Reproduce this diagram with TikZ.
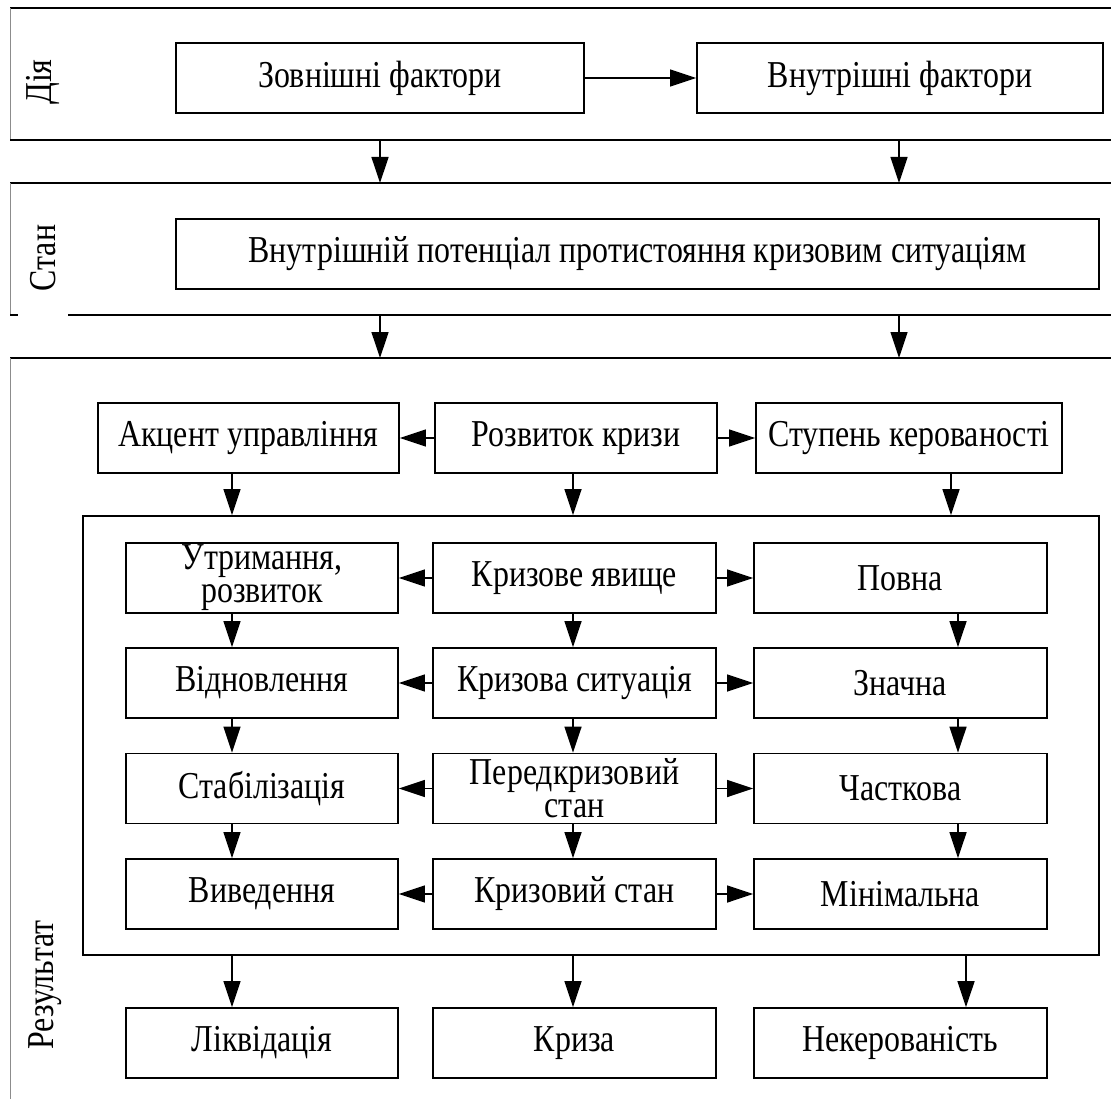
\documentclass[tikz,border=0pt]{standalone}
\usepackage{fontspec}
\setmainfont{Liberation Serif}[FakeStretch=0.84]
\usetikzlibrary{arrows.meta}
\begin{document}
\begin{tikzpicture}[x=1pt,y=-1pt,
  txt/.style={font=\fontsize{38}{33}\selectfont},
  box/.style={txt, draw, line width=1.6pt, minimum height=70pt, inner sep=0pt, align=center},
  arr/.style={-{Triangle[length=26pt,width=17pt]}, line width=1.3pt},
  thick band/.style={line width=2.8pt},
  thin band/.style={line width=1.4pt},
  side/.style={line width=1pt, draw=black!45},
  lbl/.style={txt, rotate=90}]
\useasboundingbox (0,0) rectangle (1111,1099);

% column coordinates
\coordinate (cL) at (232,0);
\coordinate (cM) at (573,0);
\coordinate (cR) at (958,0);
\coordinate (c1) at (380,0);
\coordinate (c2) at (899,0);

% bands
\draw[thick band] (10,8) -- (1111,8);
\draw[side] (10,8) -- (10,140);
\draw[thin band] (10,140) -- (1111,140);
\draw[thick band] (10,183) -- (1111,183);
\draw[side] (10,183) -- (10,315);
\draw[thin band] (10,315) -- (18,315);
\draw[thin band] (68,315) -- (1111,315);
\draw[thick band] (10,358) -- (1111,358);
\draw[side] (10,358) -- (10,1099);
\coordinate (b1) at (0,140);
\coordinate (b2) at (0,183);
\coordinate (b3) at (0,315);
\coordinate (b4) at (0,358);

\node[lbl] (ldiya) at (43,82) {Дія};
\node[lbl] (lstan) at (43,258) {Стан};
\node[lbl] (lres) at (45,985) {Результат};

% top
\node[box, minimum width=408pt] (zf) at (380,78) {Зовнішні фактори};
\node[box, minimum width=406pt] (vf) at (900,78) {Внутрішні фактори};
\draw[arr] (zf) -- (vf);
\draw[arr] (b1 -| c1) -- (b2 -| c1);
\draw[arr] (b1 -| c2) -- (b2 -| c2);

\node[box, minimum width=923pt] (pot) at (637.5,254) {Внутрішній потенціал протистояння кризовим ситуаціям};
\draw[arr] (b3 -| c1) -- (b4 -| c1);
\draw[arr] (b3 -| c2) -- (b4 -| c2);

% result
\node[box, minimum width=301pt] (akc) at (248.5,438) {Акцент управління};
\node[box, minimum width=282pt] (roz) at (576,438) {Розвиток кризи};
\node[box, minimum width=306pt] (stu) at (909,438) {Ступень керованості};
\draw[arr] (roz) -- (akc);
\draw[arr] (roz) -- (stu);

\node[draw, line width=1.6pt, minimum width=1016pt, minimum height=439pt, inner sep=0pt] (outer) at (591,735.5) {};
\draw[arr] (akc.south -| cL) -- (outer.north -| cL);
\draw[arr] (roz.south -| cM) -- (outer.north -| cM);
\draw[arr] (stu.south -| 951,0) -- (outer.north -| 951,0);

% rows
\node[box, minimum width=272pt] (l1) at (262,578) {Утримання,\\розвиток};
\node[box, minimum width=283pt] (m1) at (574.5,578) {Кризове явище};
\node[box, minimum width=293pt] (r1) at (900.5,578) {Повна};
\node[box, minimum width=272pt] (l2) at (262,683) {Відновлення};
\node[box, minimum width=283pt] (m2) at (574.5,683) {Кризова ситуація};
\node[box, minimum width=293pt] (r2) at (900.5,683) {Значна};
\node[box, minimum width=272pt] (l3) at (262,788.5) {Стабілізація};
\node[box, minimum width=283pt] (m3) at (574.5,788.5) {Передкризовий\\стан};
\node[box, minimum width=293pt] (r3) at (900.5,788.5) {Часткова};
\node[box, minimum width=272pt] (l4) at (262,894) {Виведення};
\node[box, minimum width=283pt] (m4) at (574.5,894) {Кризовий стан};
\node[box, minimum width=293pt] (r4) at (900.5,894) {Мінімальна};

\foreach \i in {1,2,3,4}{
  \draw[arr] (m\i) -- (l\i);
  \draw[arr] (m\i) -- (r\i);
}
\foreach \i/\j in {1/2,2/3,3/4}{
  \draw[arr] (l\i.south -| cL) -- (l\j.north -| cL);
  \draw[arr] (m\i.south -| cM) -- (m\j.north -| cM);
  \draw[arr] (r\i.south -| cR) -- (r\j.north -| cR);
}

% bottom
\node[box, minimum width=272pt] (liq) at (262,1043) {Ліквідація};
\node[box, minimum width=283pt] (kri) at (574.5,1043) {Криза};
\node[box, minimum width=293pt] (nek) at (900.5,1043) {Некерованість};
\draw[arr] (outer.south -| cL) -- (liq.north -| cL);
\draw[arr] (outer.south -| cM) -- (kri.north -| cM);
\draw[arr] (outer.south -| 966,0) -- (nek.north -| 966,0);
\end{tikzpicture}
\end{document}
